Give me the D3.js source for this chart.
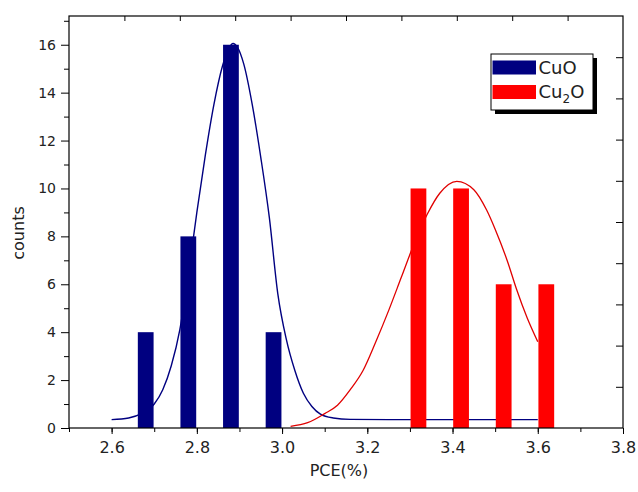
<!DOCTYPE html>
<html>
<head>
<meta charset="utf-8">
<script src="https://cdn.jsdelivr.net/npm/d3@7"></script>
<style>
  html, body { margin: 0; padding: 0; background: #fff; }
  text { font-family: "DejaVu Sans", Arial, sans-serif; fill: #222; }
</style>
</head>
<body>
<div id="viz"></div>
<script>
// histogram bars (bin centre, count)
const cuoBins = [2.68, 2.78, 2.88, 2.98];
const cuoCounts = [4, 8, 16, 4];
const cu2oBins = [3.32, 3.42, 3.52, 3.62];
const cu2oCounts = [10, 10, 6, 6];

// fitted curves, points
const cuoCurveX = [2.60, 2.64, 2.67, 2.70, 2.72, 2.74, 2.76, 2.78, 2.80, 2.82, 2.84, 2.86, 2.875, 2.885, 2.895, 2.91, 2.93, 2.95, 2.97, 2.99, 3.01, 3.03, 3.05, 3.07, 3.09, 3.12, 3.16, 3.25, 3.6];
const cuoCurveY = [0.35, 0.42, 0.6, 1.0, 1.6, 2.6, 4.1, 6.4, 9.0, 11.4, 13.5, 15.1, 15.85, 16.05, 15.9, 15.2, 13.5, 11.3, 8.8, 5.6, 3.7, 2.4, 1.45, 0.9, 0.58, 0.42, 0.36, 0.35, 0.35];
const cu2oCurveX = [3.02, 3.06, 3.10, 3.13, 3.16, 3.19, 3.22, 3.25, 3.28, 3.31, 3.34, 3.37, 3.41, 3.45, 3.48, 3.50, 3.53, 3.55, 3.575, 3.60];
const cu2oCurveY = [0.07, 0.22, 0.6, 0.95, 1.6, 2.4, 3.6, 4.9, 6.3, 7.7, 8.9, 9.8, 10.3, 9.95, 9.1, 8.3, 6.9, 5.8, 4.6, 3.6];

const xLabelTicks = [2.6, 2.8, 3.0, 3.2, 3.4, 3.6, 3.8];
const yLabelTicks = [0, 2, 4, 6, 8, 10, 12, 14, 16];

const seriesNames = ["CuO", "Cu2O"];
const seriesColors = ["#000080", "#ff0000"];

document.addEventListener("DOMContentLoaded", () => {
    const width = 638;
    const height = 492;
    const left = 69, right = 623, top = 16, bottom = 428;

    const svg = d3.select("#viz").append("svg")
        .attr("width", width)
        .attr("height", height);

    const x = d3.scaleLinear().domain([2.5, 3.8]).range([left, right]);
    const y = d3.scaleLinear().domain([0, 17.2]).range([bottom, top]);
    const barW = 0.037;

    const line = d3.line()
        .x(d => x(d[0]))
        .y(d => y(d[1]))
        .curve(d3.curveMonotoneX);

    // curves first, bars drawn over them
    svg.append("path")
        .attr("d", line(cuoCurveX.map((v, i) => [v, cuoCurveY[i]])))
        .attr("fill", "none")
        .attr("stroke", seriesColors[0])
        .attr("stroke-width", 1.4);

    svg.append("path")
        .attr("d", line(cu2oCurveX.map((v, i) => [v, cu2oCurveY[i]])))
        .attr("fill", "none")
        .attr("stroke", "#e00000")
        .attr("stroke-width", 1.3);

    function bars(bins, counts, color) {
        svg.append("g").selectAll("rect")
            .data(bins.map((b, i) => ({ b: b, c: counts[i] })))
            .enter()
            .append("rect")
            .attr("x", d => x(d.b - barW / 2))
            .attr("width", d => x(d.b + barW / 2) - x(d.b - barW / 2))
            .attr("y", d => y(d.c))
            .attr("height", d => y(0) - y(d.c))
            .attr("fill", color);
    }
    bars(cuoBins, cuoCounts, seriesColors[0]);
    bars(cu2oBins, cu2oCounts, seriesColors[1]);

    // bottom axis: labelled majors + minor ticks every 0.1
    const xMinor = d3.range(25, 39).map(v => v / 10);
    svg.append("g")
        .attr("transform", "translate(0," + bottom + ")")
        .call(d3.axisBottom(x).tickValues(xMinor).tickSize(4).tickFormat(""))
        .call(g => g.select(".domain").remove());
    svg.append("g")
        .attr("transform", "translate(0," + bottom + ")")
        .call(d3.axisBottom(x).tickValues(xLabelTicks).tickSize(6).tickPadding(8).tickFormat(d3.format(".1f")))
        .call(g => g.select(".domain").remove())
        .call(g => g.selectAll("text").attr("font-size", 16).attr("font-family", "DejaVu Sans"));

    // left axis
    const yMinor = d3.range(1, 18, 2);
    svg.append("g")
        .attr("transform", "translate(" + left + ",0)")
        .call(d3.axisLeft(y).tickValues(yMinor).tickSize(5).tickFormat(""))
        .call(g => g.select(".domain").remove());
    svg.append("g")
        .attr("transform", "translate(" + left + ",0)")
        .call(d3.axisLeft(y).tickValues(yLabelTicks).tickSize(8).tickPadding(5).tickFormat(d3.format("d")))
        .call(g => g.select(".domain").remove())
        .call(g => g.selectAll("text").attr("font-size", 14).attr("font-family", "DejaVu Sans"));

    // top and right: plain inward ticks, 10 equal divisions
    const xTop = d3.scaleLinear().domain([0, 10]).range([left, right]);
    const yRight = d3.scaleLinear().domain([0, 10]).range([top, bottom]);
    svg.append("g")
        .attr("transform", "translate(0," + top + ")")
        .call(d3.axisBottom(xTop).tickValues(d3.range(1, 10)).tickSize(5).tickFormat(""))
        .call(g => g.select(".domain").remove());
    svg.append("g")
        .attr("transform", "translate(" + right + ",0)")
        .call(d3.axisLeft(yRight).tickValues(d3.range(1, 10)).tickSize(7).tickFormat(""))
        .call(g => g.select(".domain").remove());

    // frame
    svg.append("rect")
        .attr("x", left).attr("y", top)
        .attr("width", right - left).attr("height", bottom - top)
        .attr("fill", "none")
        .attr("stroke", "#000")
        .attr("stroke-width", 1.2);

    // axis titles
    svg.append("text")
        .attr("x", (left + right) / 2 - 7)
        .attr("y", 476)
        .attr("text-anchor", "middle")
        .attr("font-size", 16)
        .text("PCE(%)");

    svg.append("text")
        .attr("transform", "translate(24,233) rotate(-90)")
        .attr("text-anchor", "middle")
        .attr("font-size", 16)
        .text("counts");

    // legend with drop shadow
    const legend = svg.append("g").attr("transform", "translate(491,54)");
    legend.append("rect")
        .attr("x", 4).attr("y", 4)
        .attr("width", 102).attr("height", 56)
        .attr("fill", "#000");
    legend.append("rect")
        .attr("width", 102).attr("height", 56)
        .attr("fill", "#fff")
        .attr("stroke", "#000")
        .attr("stroke-width", 1);

    seriesNames.forEach((name, i) => {
        legend.append("rect")
            .attr("x", 1.5).attr("y", 6.5 + i * 24.5)
            .attr("width", 43.5).attr("height", 14)
            .attr("fill", seriesColors[i]);
        const t = legend.append("text")
            .attr("x", 47.5)
            .attr("y", 19.5 + i * 24.5)
            .attr("font-size", 18);
        if (name === "Cu2O") {
            t.append("tspan").text("Cu");
            t.append("tspan").attr("font-size", 12).attr("dy", 5).text("2");
            t.append("tspan").attr("dy", -5).text("O");
        } else {
            t.text(name);
        }
    });
});
</script>
</body>
</html>
